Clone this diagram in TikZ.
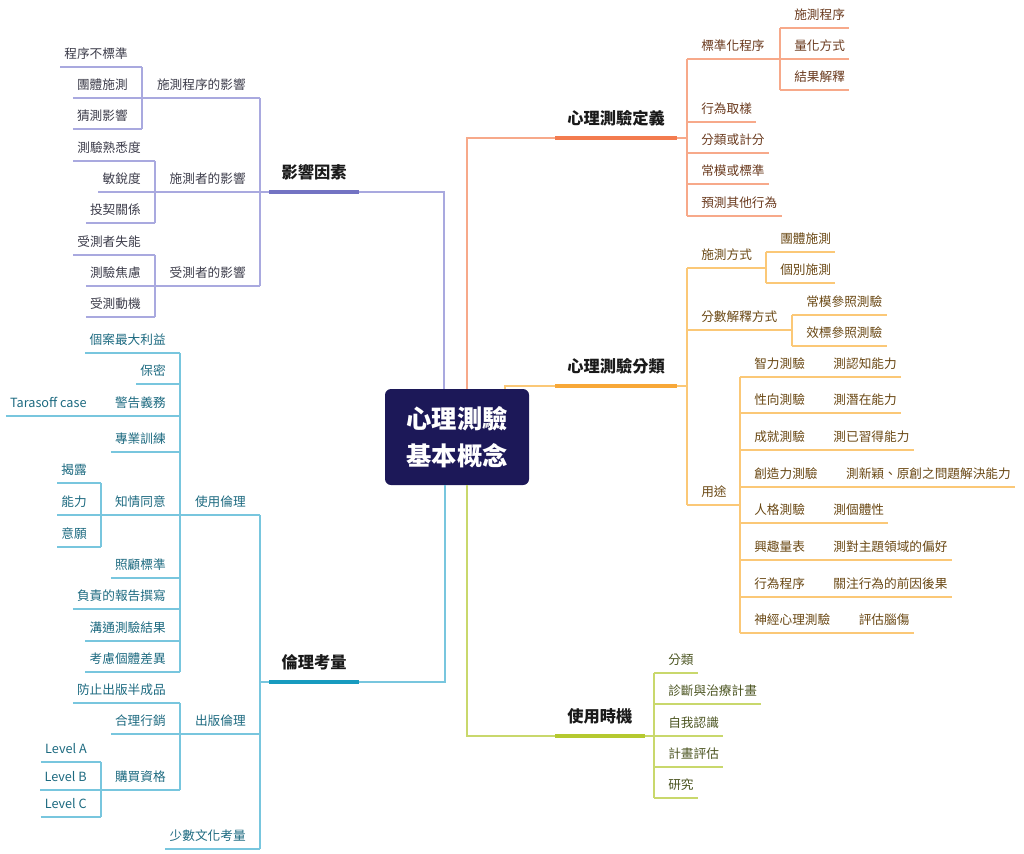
\documentclass[tikz,border=0pt]{standalone}
\usepackage{fontspec}
\setmainfont{Noto Sans CJK TC}
\usetikzlibrary{calc}

\definecolor{corefill}{HTML}{1C1858}
\definecolor{ink}{HTML}{1A1A1A}
\definecolor{infln}{HTML}{A9A9DF}\definecolor{infbar}{HTML}{7373C3}\definecolor{inftx}{HTML}{3C3C4A}
\definecolor{defln}{HTML}{F7A98A}\definecolor{defbar}{HTML}{F37B4F}\definecolor{deftx}{HTML}{6A3A1E}
\definecolor{clsln}{HTML}{FBC877}\definecolor{clsbar}{HTML}{F8A838}\definecolor{clstx}{HTML}{6A4814}
\definecolor{ethln}{HTML}{78C6DE}\definecolor{ethbar}{HTML}{179BBF}\definecolor{ethtx}{HTML}{1D6A80}
\definecolor{timln}{HTML}{C9D86C}\definecolor{timbar}{HTML}{B5C92F}\definecolor{timtx}{HTML}{4C5522}

\tikzset{
  lnk/.style={line width=1.1pt},
  bar/.style={line width=3pt},
  twigbase/.style={inner xsep=0pt, inner ysep=6pt, text height=9pt, text depth=0pt, font=\fontsize{9.5}{11}\selectfont},
  leafR/.style={twigbase, anchor=south west, execute at begin node=\hspace*{10.5pt}, execute at end node=\hspace*{3pt}},
  hubR/.style={twigbase, anchor=south west, execute at begin node=\hspace*{10.5pt}, execute at end node=\hspace*{10.5pt}},
  leafL/.style={twigbase, anchor=south east, execute at begin node=\hspace*{3pt}, execute at end node=\hspace*{10.5pt}},
  hubL/.style={twigbase, anchor=south east, execute at begin node=\hspace*{10.5pt}, execute at end node=\hspace*{10.5pt}},
  topic/.style={inner xsep=9pt, inner ysep=10pt, text height=10pt, text depth=0pt, text=ink, font=\fontsize{12.2}{14}\selectfont\bfseries},
  topicR/.style={topic, anchor=south west},
  topicL/.style={topic, anchor=south east},
  mainbox/.style={rectangle, rounded corners=4.5pt, fill=corefill, text=white, minimum width=108pt, minimum height=72pt, align=center, font=\fontsize{19}{27.75}\selectfont\bfseries}
}
\def\twig[#1](#2)(#3)#4{\node[#1] (#2) at (#3) {#4}; \draw[lnk] (#2.south west) -- (#2.south east);}

\begin{document}
\begin{tikzpicture}[x=0.75pt, y=-0.75pt]
\useasboundingbox (0,0) rectangle (1024,853);

\node[mainbox] (core) at (457,437) {心理測驗\\基本概念};

% 影響因素
\begin{scope}[lnk/.append style={draw=infln}, bar/.append style={draw=infbar}, every node/.append style={text=inftx}]
\node[topicL] (inf) at (359,192) {影響因素};
\twig[hubL](pe)(260,98){施測程序的影響}
\twig[hubL](te)(260,192){施測者的影響}
\twig[hubL](se)(260,286){受測者的影響}
\twig[leafL](pe1)(142,67){程序不標準}
\twig[leafL](pe2)(142,98){團體施測}
\twig[leafL](pe3)(142,129){猜測影響}
\twig[leafL](te1)(155,161){測驗熟悉度}
\twig[leafL](te2)(155,192){敏銳度}
\twig[leafL](te3)(155,223){投契關係}
\twig[leafL](se1)(155,255){受測者失能}
\twig[leafL](se2)(155,286){測驗焦慮}
\twig[leafL](se3)(155,317){受測動機}
\draw[lnk] (inf.south east) -| ([xshift=-9.75pt]core.north);
\draw[lnk] (inf.south west) -- (inf.south west -| te.south east);
\draw[bar] (inf.south west) -- (inf.south east);
\draw[lnk] (pe.south east) -- (se.south east);
\draw[lnk] (pe.south west) -- (pe.south west -| pe1.south east);
\draw[lnk] (pe1.south east) -- (pe3.south east);
\draw[lnk] (te.south west) -- (te.south west -| te1.south east);
\draw[lnk] (te1.south east) -- (te3.south east);
\draw[lnk] (se.south west) -- (se.south west -| se1.south east);
\draw[lnk] (se1.south east) -- (se3.south east);
\end{scope}

% 心理測驗定義
\begin{scope}[lnk/.append style={draw=defln}, bar/.append style={draw=defbar}, every node/.append style={text=deftx}]
\node[topicR] (def) at (555,138) {心理測驗定義};
\twig[hubR](std)(687,59){標準化程序}
\twig[leafR](bs)(687,122){行為取樣}
\twig[leafR](sc)(687,153){分類或計分}
\twig[leafR](nm)(687,184){常模或標準}
\twig[leafR](pr)(687,216){預測其他行為}
\twig[leafR](sp)(780,28){施測程序}
\twig[leafR](qm)(780,59){量化方式}
\twig[leafR](ri)(780,90){結果解釋}
\draw[lnk] (def.south west) -| ([xshift=7.5pt]core.north);
\draw[lnk] (def.south east) -- (def.south east -| std.south west);
\draw[bar] (def.south west) -- (def.south east);
\draw[lnk] (std.south west) -- (pr.south west);
\draw[lnk] (std.south east) -- (std.south east -| sp.south west);
\draw[lnk] (sp.south west) -- (ri.south west);
\end{scope}

% 心理測驗分類
\begin{scope}[lnk/.append style={draw=clsln}, bar/.append style={draw=clsbar}, every node/.append style={text=clstx}]
\node[topicR] (cls) at (555,386) {心理測驗分類};
\twig[hubR](way)(687,268){施測方式}
\twig[hubR](scr)(687,330){分數解釋方式}
\twig[hubR](use)(687,505){用途}
\twig[leafR](w1)(766,252){團體施測}
\twig[leafR](w2)(766,283){個別施測}
\twig[leafR](r1)(792,315){常模參照測驗}
\twig[leafR](r2)(792,346){效標參照測驗}
\twig[hubR](u1)(740,377){智力測驗}
\twig[leafR](u1a)(u1.south east){測認知能力}
\twig[hubR](u2)(740,413){性向測驗}
\twig[leafR](u2a)(u2.south east){測潛在能力}
\twig[hubR](u3)(740,450){成就測驗}
\twig[leafR](u3a)(u3.south east){測已習得能力}
\twig[hubR](u4)(740,487){創造力測驗}
\twig[leafR](u4a)(u4.south east){測新穎、原創之問題解決能力}
\twig[hubR](u5)(740,523){人格測驗}
\twig[leafR](u5a)(u5.south east){測個體性}
\twig[hubR](u6)(740,560){興趣量表}
\twig[leafR](u6a)(u6.south east){測對主題領域的偏好}
\twig[hubR](u7)(740,597){行為程序}
\twig[leafR](u7a)(u7.south east){關注行為的前因後果}
\twig[hubR](u8)(740,633){神經心理測驗}
\twig[leafR](u8a)(u8.south east){評估腦傷}
\draw[lnk] (cls.south west) -| ([xshift=36pt]core.north);
\draw[lnk] (cls.south east) -- (cls.south east -| way.south west);
\draw[bar] (cls.south west) -- (cls.south east);
\draw[lnk] (way.south west) -- (use.south west);
\draw[lnk] (way.south east) -- (way.south east -| w1.south west);
\draw[lnk] (w1.south west) -- (w2.south west);
\draw[lnk] (scr.south east) -- (scr.south east -| r1.south west);
\draw[lnk] (r1.south west) -- (r2.south west);
\draw[lnk] (use.south east) -- (use.south east -| u1.south west);
\draw[lnk] (u1.south west) -- (u8.south west);
\end{scope}

% 倫理考量
\begin{scope}[lnk/.append style={draw=ethln}, bar/.append style={draw=ethbar}, every node/.append style={text=ethtx}]
\node[topicL] (eth) at (359,682) {倫理考量};
\twig[hubL](eu)(260,515){使用倫理}
\twig[hubL](ep)(260,734){出版倫理}
\twig[leafL](mc)(260,849){少數文化考量}
\twig[leafL](a1)(180,353){個案最大利益}
\twig[leafL](a2)(180,384){保密}
\twig[hubL](a3)(180,416){警告義務}
\twig[leafL](tara)(a3.south west){Tarasoff case}
\twig[leafL](a4)(180,452){專業訓練}
\twig[hubL](a5)(180,515){知情同意}
\twig[leafL](a6)(180,578){照顧標準}
\twig[leafL](a7)(180,609){負責的報告撰寫}
\twig[leafL](a8)(180,641){溝通測驗結果}
\twig[leafL](a9)(180,672){考慮個體差異}
\twig[leafL](c1)(101,483){揭露}
\twig[leafL](c2)(101,515){能力}
\twig[leafL](c3)(101,547){意願}
\twig[leafL](p1)(180,703){防止出版半成品}
\twig[leafL](p2)(180,734){合理行銷}
\twig[hubL](p3)(180,790){購買資格}
\twig[leafL](l1)(101,762){Level A}
\twig[leafL](l2)(101,790){Level B}
\twig[leafL](l3)(101,817){Level C}
\draw[lnk] (eth.south east) -| ([xshift=-9pt]core.south);
\draw[lnk] (eth.south west) -- (eth.south west -| eu.south east);
\draw[bar] (eth.south west) -- (eth.south east);
\draw[lnk] (eu.south east) -- (mc.south east);
\draw[lnk] (eu.south west) -- (eu.south west -| a1.south east);
\draw[lnk] (a1.south east) -- (a9.south east);
\draw[lnk] (a5.south west) -- (a5.south west -| c1.south east);
\draw[lnk] (c1.south east) -- (c3.south east);
\draw[lnk] (ep.south west) -- (ep.south west -| p1.south east);
\draw[lnk] (p1.south east) -- (p3.south east);
\draw[lnk] (p3.south west) -- (p3.south west -| l1.south east);
\draw[lnk] (l1.south east) -- (l3.south east);
\end{scope}

% 使用時機
\begin{scope}[lnk/.append style={draw=timln}, bar/.append style={draw=timbar}, every node/.append style={text=timtx}]
\node[topicR] (tim) at (555,736) {使用時機};
\twig[leafR](t1)(654,673){分類}
\twig[leafR](t2)(654,704){診斷與治療計畫}
\twig[leafR](t3)(654,736){自我認識}
\twig[leafR](t4)(654,767){計畫評估}
\twig[leafR](t5)(654,798){研究}
\draw[lnk] (tim.south west) -| ([xshift=7.5pt]core.south);
\draw[lnk] (tim.south east) -- (tim.south east -| t1.south west);
\draw[bar] (tim.south west) -- (tim.south east);
\draw[lnk] (t1.south west) -- (t5.south west);
\end{scope}

\end{tikzpicture}
\end{document}
